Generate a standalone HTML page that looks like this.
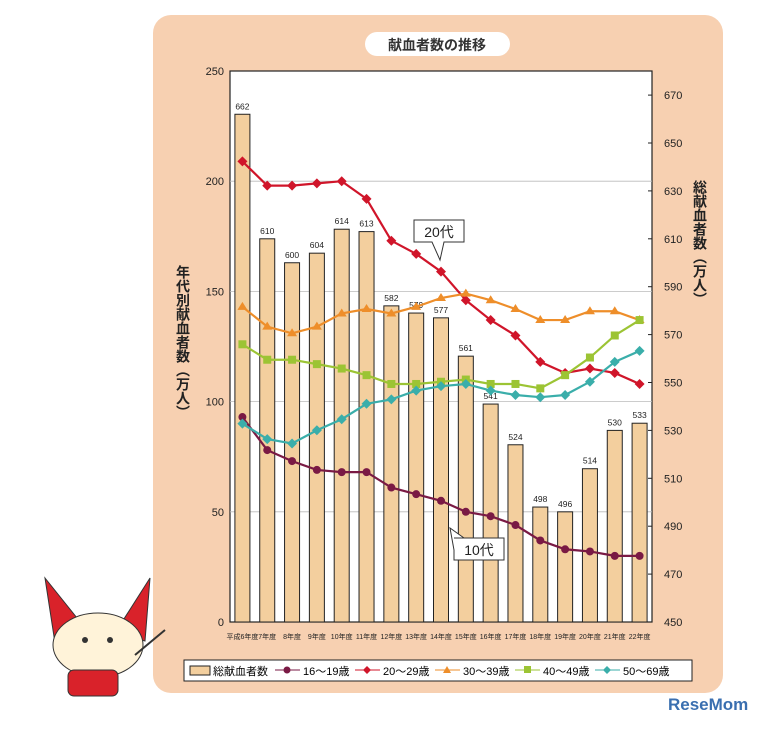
<!DOCTYPE html>
<html><head><meta charset="utf-8"><style>
body{margin:0;background:#fff;width:768px;height:724px;overflow:hidden;font-family:"Liberation Sans","Noto Sans CJK JP",sans-serif;}
</style></head><body>
<svg width="768" height="724" font-family="Liberation Sans, Noto Sans CJK JP, sans-serif">
<rect x="153" y="15" width="570" height="678" rx="18" fill="#f7d0b1"/>
<rect x="365" y="32" width="145" height="24" rx="12" fill="#fff"/>
<text x="437" y="50" text-anchor="middle" font-size="14" font-weight="bold" fill="#333">献血者数の推移</text>
<rect x="230" y="71" width="422" height="551" fill="#fff" stroke="#222" stroke-width="1.2"/>
<g id="grid"></g><g id="bars"></g><g id="lines"></g><g id="axes" font-size="11" fill="#222"></g>
<text x="183" y="265" font-size="14" font-weight="bold" fill="#222" style="writing-mode:tb">年代別献血者数（万人）</text>
<text x="700" y="180" font-size="14" font-weight="bold" fill="#222" style="writing-mode:tb">総献血者数（万人）</text>
<g><path d="M414 220h50v22h-20l-4 18l-8-18h-18z" fill="#fff" stroke="#333"/><text x="439" y="237" text-anchor="middle" font-size="14" fill="#222">20代</text></g>
<g><path d="M454 538h50v22h-50v-10l-4-22l14 10z" fill="#fff" stroke="#333"/><text x="479" y="555" text-anchor="middle" font-size="14" fill="#222">10代</text></g>
<g><rect x="184" y="660" width="508" height="21" fill="#fff" stroke="#222"/>
<rect x="190" y="666" width="20" height="9" fill="#f3cf9e" stroke="#222"/><text x="213" y="675" font-size="11">総献血者数</text>
<line x1="275" y1="670" x2="300" y2="670" stroke="#7a1a44"/><circle cx="287" cy="670" r="3.5" fill="#7a1a44"/><text x="303" y="675" font-size="11">16～19歳</text>
<line x1="355" y1="670" x2="380" y2="670" stroke="#d0152a"/><path d="M367 666l4 4l-4 4l-4-4z" fill="#d0152a"/><text x="383" y="675" font-size="11">20～29歳</text>
<line x1="435" y1="670" x2="460" y2="670" stroke="#ee8e2a"/><path d="M447 666l4 7h-8z" fill="#ee8e2a"/><text x="463" y="675" font-size="11">30～39歳</text>
<line x1="515" y1="670" x2="540" y2="670" stroke="#9cc434"/><rect x="524" y="666" width="7" height="7" fill="#9cc434"/><text x="543" y="675" font-size="11">40～49歳</text>
<line x1="595" y1="670" x2="620" y2="670" stroke="#3aaeaa"/><path d="M607 666l4 4l-4 4l-4-4z" fill="#3aaeaa"/><text x="623" y="675" font-size="11">50～69歳</text></g>
<g>
<path d="M45 578l40 50l-30 15z" fill="#d9222a" stroke="#333"/><path d="M150 578l-35 55l30 8z" fill="#d9222a" stroke="#333"/>
<ellipse cx="98" cy="645" rx="45" ry="32" fill="#fff3d9" stroke="#333"/>
<circle cx="85" cy="640" r="3" fill="#333"/><circle cx="110" cy="640" r="3" fill="#333"/>
<rect x="68" y="670" width="50" height="26" rx="6" fill="#d9222a" stroke="#333"/>
<line x1="135" y1="655" x2="165" y2="630" stroke="#333" stroke-width="2"/></g>
<text x="668" y="710" font-size="17" font-weight="bold" fill="#3a6fb0">ReseMom</text>
</svg>
<script>
const cats=["平成6年度","7年度","8年度","9年度","10年度","11年度","12年度","13年度","14年度","15年度","16年度","17年度","18年度","19年度","20年度","21年度","22年度"];
const totals=[662,610,600,604,614,613,582,579,577,561,541,524,498,496,514,530,533];
const s1619=[93,78,73,69,68,68,61,58,55,50,48,44,37,33,32,30,30];
const s2029=[209,198,198,199,200,192,173,167,159,146,137,130,118,113,115,113,108];
const s3039=[143,134,131,134,140,142,140,143,147,149,146,142,137,137,141,141,137];
const s4049=[126,119,119,117,115,112,108,108,109,110,108,108,106,112,120,130,137];
const s5069=[90,83,81,87,92,99,101,105,107,108,105,103,102,103,109,118,123];
const leftTicks=[0,50,100,150,200,250];
const rightTicks=[450,470,490,510,530,550,570,590,610,630,650,670];
const NS="http://www.w3.org/2000/svg";
const X0=230,X1=652,YB=622;
const bw=(X1-X0)/cats.length;
const xc=i=>X0+bw*(i+0.5);
const yL=v=>YB-v*(551/250);
const yR=v=>YB-(v-450)*2.395;
function mk(t,a,p){const e=document.createElementNS(NS,t);for(const k in a)e.setAttribute(k,a[k]);p.appendChild(e);return e;}
const G=document.getElementById('grid'),B=document.getElementById('bars'),L=document.getElementById('lines'),A=document.getElementById('axes');
leftTicks.forEach(v=>{
 if(v>0&&v<250){const l=mk('line',{x1:X0,x2:X1,y1:yL(v),y2:yL(v),stroke:'#bbb','stroke-width':0.8},G);
 
 }
 const t=mk('text',{x:X0-6,y:yL(v)+4,'text-anchor':'end'},A);t.textContent=v;
 
 
});
rightTicks.forEach((v,i)=>{
 mk('line',{x1:X1,x2:X1-4,y1:yR(v),y2:yR(v),stroke:'#222'},A);
 const t=mk('text',{x:X1+12,y:yR(v)+4},A);t.textContent=v;
 
 
});
cats.forEach((c,i)=>{
 const r=mk('rect',{x:xc(i)-7.5,y:yR(totals[i]),width:15,height:YB-yR(totals[i]),fill:'#f3cf9e',stroke:'#222','stroke-width':1},B);
 
 
 const t=mk('text',{x:xc(i),y:yR(totals[i])-5,'text-anchor':'middle','font-size':8.5,fill:'#222'},B);t.textContent=totals[i];
 
 
 const cl=mk('text',{x:xc(i),y:639,'text-anchor':'middle','font-size':7,fill:'#222'},A);cl.textContent=c;
 
 
});
const series=[[s1619,'#7a1a44','circle','series-16-19'],[s2029,'#d0152a','diamond','series-20-29'],[s3039,'#ee8e2a','tri','series-30-39'],[s4049,'#9cc434','square','series-40-49'],[s5069,'#3aaeaa','diamond','series-50-69']];
series.forEach(([d,c,m,n])=>{
 const g=mk('g',{},L);
 
 
 mk('polyline',{points:d.map((v,i)=>xc(i)+','+yL(v)).join(' '),fill:'none',stroke:c,'stroke-width':2.2},g);
 d.forEach((v,i)=>{const x=xc(i),y=yL(v);let e;
  if(m==='circle')e=mk('circle',{cx:x,cy:y,r:4,fill:c},g);
  else if(m==='diamond')e=mk('path',{d:`M${x} ${y-5}l5 5l-5 5l-5-5z`,fill:c},g);
  else if(m==='tri')e=mk('path',{d:`M${x} ${y-5}l5 8h-10z`,fill:c},g);
  else e=mk('rect',{x:x-4,y:y-4,width:8,height:8,fill:c},g);
  
  
 });
});
</script>
</body></html>
